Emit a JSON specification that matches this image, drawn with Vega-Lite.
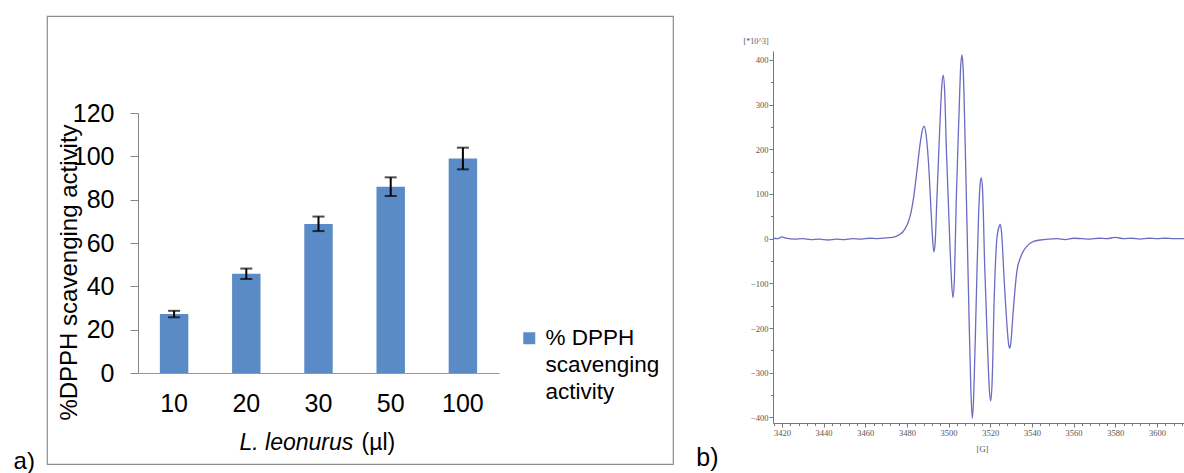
{
  "$schema": "https://vega.github.io/schema/vega-lite/v6.json",
  "background": "white",
  "padding": {"left": 13, "top": 15, "right": 0, "bottom": 0},
  "autosize": {"type": "pad"},
  "bounds": "flush",
  "spacing": 100,
  "config": {"style": {"guide-label": {"lineHeight": 27}}},
  "datasets": {
    "bars": [
      {"conc": "10", "value": 27.2, "lo": 25.7, "hi": 28.7, "series": "% DPPH scavenging activity"},
      {"conc": "20", "value": 45.8, "lo": 43.4, "hi": 48.2, "series": "% DPPH scavenging activity"},
      {"conc": "30", "value": 68.8, "lo": 65.5, "hi": 72.2, "series": "% DPPH scavenging activity"},
      {"conc": "50", "value": 86.0, "lo": 81.7, "hi": 90.3, "series": "% DPPH scavenging activity"},
      {"conc": "100", "value": 99.0, "lo": 94.0, "hi": 104.0, "series": "% DPPH scavenging activity"}
    ],
    "epr": [
      {"G": 3415.7, "I": 1}, {"G": 3418, "I": 0}, {"G": 3420, "I": 4}, {"G": 3422, "I": 1},
      {"G": 3426, "I": -1}, {"G": 3430, "I": 0}, {"G": 3434, "I": -2}, {"G": 3438, "I": -1},
      {"G": 3442, "I": -3}, {"G": 3446, "I": -1}, {"G": 3450, "I": -2}, {"G": 3454, "I": 0},
      {"G": 3458, "I": -1}, {"G": 3462, "I": 1}, {"G": 3466, "I": 0}, {"G": 3470, "I": 2},
      {"G": 3473, "I": 3}, {"G": 3476, "I": 8}, {"G": 3478, "I": 15}, {"G": 3480, "I": 30},
      {"G": 3481.5, "I": 50}, {"G": 3483.2, "I": 92}, {"G": 3484.8, "I": 152}, {"G": 3486.4, "I": 215},
      {"G": 3487.5, "I": 245}, {"G": 3488.3, "I": 252}, {"G": 3489.2, "I": 232}, {"G": 3490.4, "I": 167},
      {"G": 3491.5, "I": 69}, {"G": 3492.3, "I": 0}, {"G": 3492.9, "I": -30}, {"G": 3493.5, "I": -12},
      {"G": 3494.4, "I": 92}, {"G": 3495.7, "I": 241}, {"G": 3496.7, "I": 340}, {"G": 3497.4, "I": 366},
      {"G": 3498.1, "I": 330}, {"G": 3498.9, "I": 204}, {"G": 3500.5, "I": 2}, {"G": 3501.4, "I": -95},
      {"G": 3502.1, "I": -132}, {"G": 3502.8, "I": -88}, {"G": 3503.7, "I": 92}, {"G": 3505.0, "I": 279},
      {"G": 3505.8, "I": 385}, {"G": 3506.4, "I": 411}, {"G": 3507.0, "I": 380}, {"G": 3508.0, "I": 204},
      {"G": 3509.6, "I": -132}, {"G": 3510.7, "I": -340}, {"G": 3511.4, "I": -402}, {"G": 3512.1, "I": -345},
      {"G": 3513.3, "I": -132}, {"G": 3514.4, "I": 55}, {"G": 3515.2, "I": 125}, {"G": 3515.7, "I": 136},
      {"G": 3516.3, "I": 110}, {"G": 3517.3, "I": -57}, {"G": 3518.7, "I": -244}, {"G": 3519.6, "I": -340},
      {"G": 3520.2, "I": -363}, {"G": 3520.9, "I": -320}, {"G": 3521.9, "I": -132}, {"G": 3523.2, "I": 2},
      {"G": 3524.3, "I": 28}, {"G": 3524.8, "I": 32}, {"G": 3525.4, "I": 15}, {"G": 3526.7, "I": -95},
      {"G": 3528.0, "I": -192}, {"G": 3528.8, "I": -236}, {"G": 3529.3, "I": -245}, {"G": 3529.9, "I": -232},
      {"G": 3530.9, "I": -169}, {"G": 3532.8, "I": -72}, {"G": 3534.5, "I": -42}, {"G": 3536, "I": -27},
      {"G": 3538, "I": -15}, {"G": 3540.8, "I": -6}, {"G": 3544, "I": -3}, {"G": 3548, "I": -1},
      {"G": 3552, "I": 0}, {"G": 3556, "I": -2}, {"G": 3560, "I": 1}, {"G": 3564, "I": 0},
      {"G": 3568, "I": -1}, {"G": 3572, "I": 1}, {"G": 3576, "I": 0}, {"G": 3580, "I": 3},
      {"G": 3584, "I": 0}, {"G": 3588, "I": 1}, {"G": 3592, "I": -1}, {"G": 3596, "I": 1},
      {"G": 3600, "I": 0}, {"G": 3604, "I": 1}, {"G": 3608, "I": 0}, {"G": 3613, "I": 0}
    ]
  },
  "hconcat": [
    {
      "width": 626,
      "height": 448,
      "view": {"stroke": "#8c8c8c", "strokeWidth": 1.2},
      "title": {"text": "a)", "orient": "bottom", "anchor": "start", "frame": "group", "dx": -33.4, "offset": -14, "baseline": "top", "font": "Liberation Sans", "fontSize": 24, "fontWeight": "normal", "color": "black"},
      "data": {"name": "bars"},
      "layer": [
        {
          "mark": {"type": "bar"},
          "encoding": {
            "x": {"field": "conc", "type": "ordinal", "sort": ["10", "20", "30", "50", "100"],
              "scale": {"range": [91, 452], "paddingInner": 0.606, "paddingOuter": 0.303},
              "axis": {"offset": -91, "domainColor": "#999999", "ticks": false, "tickSize": 0, "labelFont": "Liberation Sans", "labelFontSize": 25, "labelColor": "black", "labelPadding": 18, "labelAngle": 0,
                "title": "L. leonurus", "titleFont": "Liberation Sans", "titleFontSize": 23, "titleFontStyle": "italic", "titleFontWeight": "normal", "titleColor": "black", "titleAlign": "left", "titleBaseline": "alphabetic", "titleX": 192, "titleY": 76}},
            "y": {"field": "value", "type": "quantitative", "title": "%DPPH scavenging activity",
              "scale": {"domain": [0, 120], "range": [357, 97], "nice": false, "zero": true},
              "axis": {"offset": -91, "values": [0, 20, 40, 60, 80, 100, 120], "grid": false, "domainColor": "#868686", "tickColor": "#868686", "tickSize": 8, "labelFont": "Liberation Sans", "labelFontSize": 25, "labelColor": "black", "labelPadding": 16,
                "titleFont": "Liberation Sans", "titleFontSize": 24, "titleFontWeight": "normal", "titleColor": "black", "titleAngle": 270, "titleAlign": "center", "titleBaseline": "middle", "titleX": -69, "titleY": 256}},
            "color": {"field": "series", "type": "nominal", "scale": {"range": ["#5b8bc7"]},
              "legend": {"orient": "none", "legendX": 471, "legendY": 311, "title": null, "padding": 0, "symbolType": "square", "symbolSize": 144, "symbolStrokeWidth": 0, "labelFont": "Liberation Sans", "labelFontSize": 22.5, "labelColor": "black", "labelOffset": 5, "labelLimit": 300, "labelExpr": "['% DPPH', 'scavenging', 'activity']"}}
          }
        },
        {
          "mark": {"type": "rule", "color": "black", "strokeWidth": 2},
          "encoding": {
            "x": {"field": "conc", "type": "ordinal", "sort": ["10", "20", "30", "50", "100"],
              "scale": {"range": [91, 452], "paddingInner": 0.606, "paddingOuter": 0.303},
              "axis": {"orient": "bottom", "offset": -91, "labels": false, "ticks": false, "domain": false, "tickSize": 0,
                "title": "(µl)", "titleFont": "Liberation Sans", "titleFontSize": 23, "titleFontStyle": "normal", "titleFontWeight": "normal", "titleColor": "black", "titleAlign": "left", "titleBaseline": "alphabetic", "titleX": 314, "titleY": 76}},
            "y": {"field": "lo", "type": "quantitative", "title": "%DPPH scavenging activity"},
            "y2": {"field": "hi"}
          }
        },
        {
          "mark": {"type": "tick", "color": "black", "thickness": 2, "size": 12},
          "encoding": {
            "x": {"field": "conc", "type": "ordinal", "sort": ["10", "20", "30", "50", "100"], "axis": null},
            "y": {"field": "lo", "type": "quantitative", "title": "%DPPH scavenging activity"}
          }
        },
        {
          "mark": {"type": "tick", "color": "black", "thickness": 2, "size": 12},
          "encoding": {
            "x": {"field": "conc", "type": "ordinal", "sort": ["10", "20", "30", "50", "100"], "axis": null},
            "y": {"field": "hi", "type": "quantitative", "title": "%DPPH scavenging activity"}
          }
        }
      ],
      "resolve": {"axis": {"x": "independent"}}
    },
    {
      "width": 411,
      "height": 407,
      "view": {"stroke": null},
      "title": {"text": "b)", "orient": "bottom", "anchor": "start", "frame": "group", "dx": -76.7, "offset": -7, "baseline": "top", "font": "Liberation Sans", "fontSize": 25, "fontWeight": "normal", "color": "black"},
      "data": {"name": "epr"},
      "mark": {"type": "line", "interpolate": "monotone", "color": "#6b6bc2", "strokeWidth": 1.3},
      "encoding": {
        "x": {"field": "G", "type": "quantitative",
          "scale": {"domain": [3415.7, 3613], "nice": false, "zero": false},
          "axis": {"values": [3416, 3420, 3424, 3428, 3432, 3436, 3440, 3444, 3448, 3452, 3456, 3460, 3464, 3468, 3472, 3476, 3480, 3484, 3488, 3492, 3496, 3500, 3504, 3508, 3512, 3516, 3520, 3524, 3528, 3532, 3536, 3540, 3544, 3548, 3552, 3556, 3560, 3564, 3568, 3572, 3576, 3580, 3584, 3588, 3592, 3596, 3600, 3604, 3608, 3612],
            "format": "d", "labelExpr": "datum.value % 20 === 0 ? datum.label : ''", "labelOverlap": false, "labelFlush": false, "grid": false,
            "tickSize": {"condition": {"test": "datum.value % 20 === 0", "value": 4}, "value": 2.5},
            "domainColor": "#777777", "tickColor": "#777777", "labelFont": "Liberation Sans Narrow", "labelFontSize": 8.5, "labelColor": "#555555", "labelPadding": 1,
            "title": "[G]", "titleFont": "Liberation Sans Narrow", "titleFontSize": 8.5, "titleFontWeight": "normal", "titleColor": "#555555", "titleX": 209, "titleY": 25, "titleAlign": "center", "titleBaseline": "middle"}},
        "y": {"field": "I", "type": "quantitative",
          "scale": {"domain": [-412.5, 420], "range": [407, 35], "nice": false, "zero": false},
          "axis": {"values": [-400, -350, -300, -250, -200, -150, -100, -50, 0, 50, 100, 150, 200, 250, 300, 350, 400],
            "labelExpr": "datum.value % 100 === 0 ? datum.label : ''", "labelOverlap": false, "labelFlush": false, "grid": false,
            "tickSize": {"condition": {"test": "datum.value % 100 === 0", "value": 4}, "value": 2.5},
            "domainColor": "#777777", "tickColor": "#777777", "labelFont": "Liberation Sans Narrow", "labelFontSize": 8.5, "labelColor": "#555555", "labelPadding": 1,
            "title": "[*10^3]", "titleFont": "Liberation Sans Narrow", "titleFontSize": 8, "titleFontWeight": "normal", "titleColor": "#555555", "titleAngle": 0, "titleAlign": "left", "titleBaseline": "middle", "titleX": -30, "titleY": 25}}
      }
    }
  ]
}
